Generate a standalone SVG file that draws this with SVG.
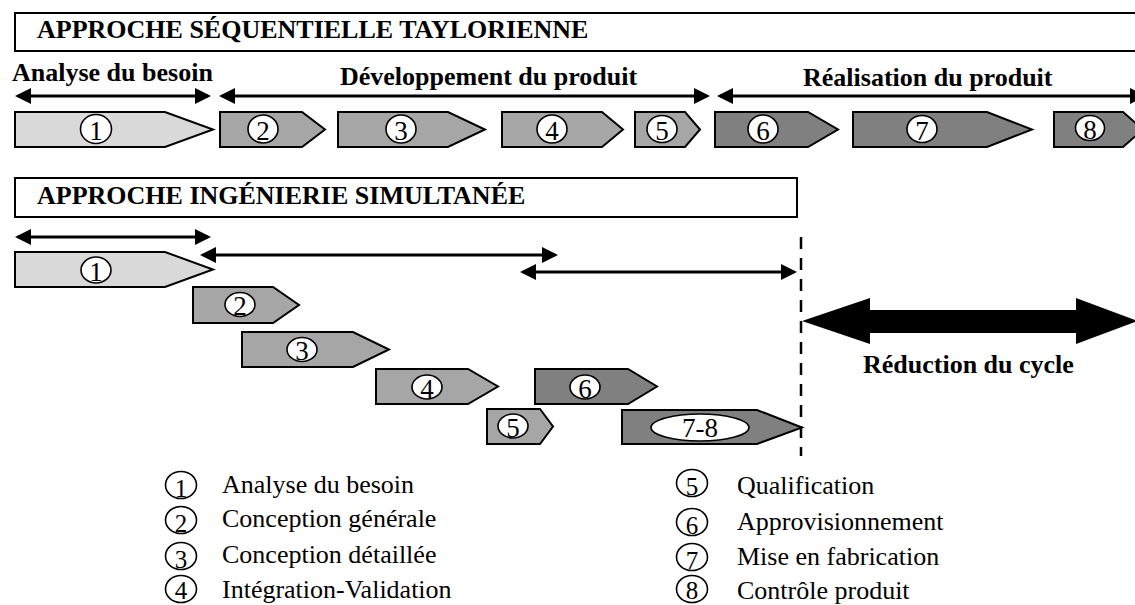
<svg xmlns="http://www.w3.org/2000/svg" width="1135" height="605" viewBox="0 0 1135 605">
  <style>
    .title { font-family: "Liberation Serif", "Times New Roman", serif; font-weight: bold; font-size: 26px; fill: #000; }
    .lbl { font-family: "Liberation Serif", "Times New Roman", serif; font-weight: bold; font-size: 26px; fill: #000; }
    .leg { font-family: "Liberation Serif", "Times New Roman", serif; font-size: 26px; fill: #000; }
    .num { font-family: "Liberation Serif", "Times New Roman", serif; font-size: 27px; fill: #000; text-anchor: middle; }
    .lnum { font-family: "Liberation Serif", "Times New Roman", serif; font-size: 25px; fill: #000; text-anchor: middle; }
    .box { fill: #fff; stroke: #000; stroke-width: 2; }
    .ph1 { fill: #d9d9d9; stroke: #000; stroke-width: 2; stroke-linejoin: miter; }
    .ph2 { fill: #a6a6a6; stroke: #000; stroke-width: 2; stroke-linejoin: miter; }
    .ph3 { fill: #808080; stroke: #000; stroke-width: 2; stroke-linejoin: miter; }
    .badge { fill: #fff; stroke: #000; stroke-width: 1.6; }
    .lcirc { fill: none; stroke: #000; stroke-width: 1.6; }
    .span { stroke: #000; stroke-width: 3; fill: none; }
    .both { marker-start: url(#head); marker-end: url(#head); }
    .end { marker-end: url(#head); }
    .start { marker-start: url(#head); }
  </style>
  <defs>
    <marker id="head" markerUnits="userSpaceOnUse" markerWidth="16" markerHeight="16" refX="13" refY="8" orient="auto-start-reverse" viewBox="0 0 16 16">
      <path d="M0,0 L16,8 L0,16 z" fill="#000"/>
    </marker>
  </defs>

  <!-- Sequential (Taylorian) approach -->
  <g id="title-sequentielle">
    <rect class="box" x="15" y="13" width="1135" height="38"/>
    <text class="title" x="37" y="38">APPROCHE SÉQUENTIELLE TAYLORIENNE</text>
  </g>
  <g id="phase-labels">
    <text class="lbl" x="12" y="81">Analyse du besoin</text>
    <text class="lbl" x="340" y="85">Développement du produit</text>
    <text class="lbl" x="803" y="86">Réalisation du produit</text>
  </g>

  <g id="seq-1">
    <polygon class="ph1" points="15,112 165,112 213,129.5 165,147 15,147"/>
    <ellipse class="badge" cx="96" cy="129" rx="15.5" ry="14.5"/>
    <text class="num" x="96" y="140">1</text>
  </g>
  <g id="seq-2">
    <polygon class="ph2" points="220,112 302,112 325,129.5 302,147 220,147"/>
    <ellipse class="badge" cx="263" cy="129" rx="15" ry="14"/>
    <text class="num" x="263" y="140">2</text>
  </g>
  <g id="seq-3">
    <polygon class="ph2" points="338,112 448,112 485,129.5 448,147 338,147"/>
    <ellipse class="badge" cx="401" cy="129" rx="15" ry="14"/>
    <text class="num" x="401" y="140">3</text>
  </g>
  <g id="seq-4">
    <polygon class="ph2" points="502,112 602,112 623,129.5 602,147 502,147"/>
    <ellipse class="badge" cx="552" cy="129" rx="15" ry="14"/>
    <text class="num" x="552" y="140">4</text>
  </g>
  <g id="seq-5">
    <polygon class="ph2" points="635,112 685,112 700,129.5 685,147 635,147"/>
    <ellipse class="badge" cx="662" cy="129" rx="15" ry="13.5"/>
    <text class="num" x="662" y="140">5</text>
  </g>
  <g id="seq-6">
    <polygon class="ph3" points="715,112 808,112 838,129.5 808,147 715,147"/>
    <ellipse class="badge" cx="763" cy="129" rx="15" ry="14"/>
    <text class="num" x="763" y="140">6</text>
  </g>
  <g id="seq-7">
    <polygon class="ph3" points="853,112 987,112 1032,129.5 987,147 853,147"/>
    <ellipse class="badge" cx="922" cy="129" rx="15" ry="13.5"/>
    <text class="num" x="922" y="140">7</text>
  </g>
  <g id="seq-8">
    <polygon class="ph3" points="1054,112 1123,112 1143,129.5 1123,147 1054,147"/>
    <ellipse class="badge" cx="1090" cy="128" rx="14.5" ry="12.5"/>
    <text class="num" x="1090" y="139">8</text>
  </g>

  <!-- Concurrent engineering approach -->
  <g id="title-simultanee">
    <rect class="box" x="15" y="178" width="782" height="39"/>
    <text class="title" x="37" y="204">APPROCHE INGÉNIERIE SIMULTANÉE</text>
  </g>

  <g id="sim-1">
    <polygon class="ph1" points="15,252 165,252 213,269.5 165,287 15,287"/>
    <ellipse class="badge" cx="96" cy="270" rx="15" ry="13"/>
    <text class="num" x="96" y="281">1</text>
  </g>
  <g id="sim-2">
    <polygon class="ph2" points="193,287 273,287 299,305 273,323 193,323"/>
    <ellipse class="badge" cx="240" cy="304.5" rx="15" ry="12"/>
    <text class="num" x="240" y="315">2</text>
  </g>
  <g id="sim-3">
    <polygon class="ph2" points="242,332 353,332 389,349.5 353,367 242,367"/>
    <ellipse class="badge" cx="302" cy="349.5" rx="15" ry="12"/>
    <text class="num" x="302" y="360">3</text>
  </g>
  <g id="sim-4">
    <polygon class="ph2" points="376,369 468,369 498,386.5 468,404 376,404"/>
    <ellipse class="badge" cx="427" cy="387" rx="15" ry="12"/>
    <text class="num" x="427" y="398">4</text>
  </g>
  <g id="sim-6">
    <polygon class="ph3" points="535,369 628,369 657,386.5 628,404 535,404"/>
    <ellipse class="badge" cx="585" cy="387" rx="15" ry="12"/>
    <text class="num" x="585" y="398">6</text>
  </g>
  <g id="sim-5">
    <polygon class="ph2" points="487,409 540,409 553,426.5 540,444 487,444"/>
    <ellipse class="badge" cx="513" cy="426" rx="15" ry="12"/>
    <text class="num" x="513" y="437">5</text>
  </g>
  <g id="sim-7-8">
    <polygon class="ph3" points="622,410 757,410 802,427.5 757,444 622,444"/>
    <ellipse class="badge" cx="700" cy="427.5" rx="49" ry="13.5"/>
    <text class="num" x="700" y="437">7-8</text>
  </g>

  <g id="cycle-reduction">
    <polygon points="802,321 870,298 870,310 1076,310 1076,298 1138,321 1076,344 1076,333 870,333 870,344" fill="#000"/>
    <text class="lbl" x="863" y="373">Réduction du cycle</text>
  </g>

  <!-- Duration spans and the end-of-cycle marker -->
  <g id="connectors">
    <line class="span both" x1="18" y1="96" x2="208" y2="96"/>
    <line class="span both" x1="222" y1="96" x2="707" y2="96"/>
    <line class="span both" x1="720" y1="96" x2="1143" y2="96"/>
    <line class="span both" x1="18" y1="237" x2="208" y2="237"/>
    <line class="span start end" x1="203" y1="255" x2="555" y2="255"/>
    <line class="span both" x1="523" y1="272" x2="794" y2="272"/>
    <line x1="801" y1="237" x2="801" y2="456" stroke="#000" stroke-width="2.5" stroke-dasharray="12 9"/>
  </g>

  <!-- Legend -->
  <g id="legend">
    <ellipse class="lcirc" cx="181" cy="485" rx="15.5" ry="13.5"/>
    <text class="lnum" x="181" y="497">1</text>
    <text class="leg" x="222" y="493">Analyse du besoin</text>
    <ellipse class="lcirc" cx="181" cy="520" rx="15.5" ry="13.5"/>
    <text class="lnum" x="181" y="532">2</text>
    <text class="leg" x="222" y="527">Conception générale</text>
    <ellipse class="lcirc" cx="181" cy="556" rx="15.5" ry="13.5"/>
    <text class="lnum" x="181" y="568">3</text>
    <text class="leg" x="222" y="563">Conception détaillée</text>
    <ellipse class="lcirc" cx="181" cy="589" rx="15.5" ry="13.5"/>
    <text class="lnum" x="181" y="599">4</text>
    <text class="leg" x="222" y="598">Intégration-Validation</text>

    <ellipse class="lcirc" cx="692" cy="483" rx="15.5" ry="13.5"/>
    <text class="lnum" x="692" y="495">5</text>
    <text class="leg" x="737" y="494">Qualification</text>
    <ellipse class="lcirc" cx="692" cy="522" rx="15.5" ry="13.5"/>
    <text class="lnum" x="692" y="534">6</text>
    <text class="leg" x="737" y="530">Approvisionnement</text>
    <ellipse class="lcirc" cx="692" cy="557" rx="15.5" ry="13.5"/>
    <text class="lnum" x="692" y="569">7</text>
    <text class="leg" x="737" y="565">Mise en fabrication</text>
    <ellipse class="lcirc" cx="692" cy="589" rx="15.5" ry="13.5"/>
    <text class="lnum" x="692" y="599">8</text>
    <text class="leg" x="737" y="599">Contrôle produit</text>
  </g>
</svg>
